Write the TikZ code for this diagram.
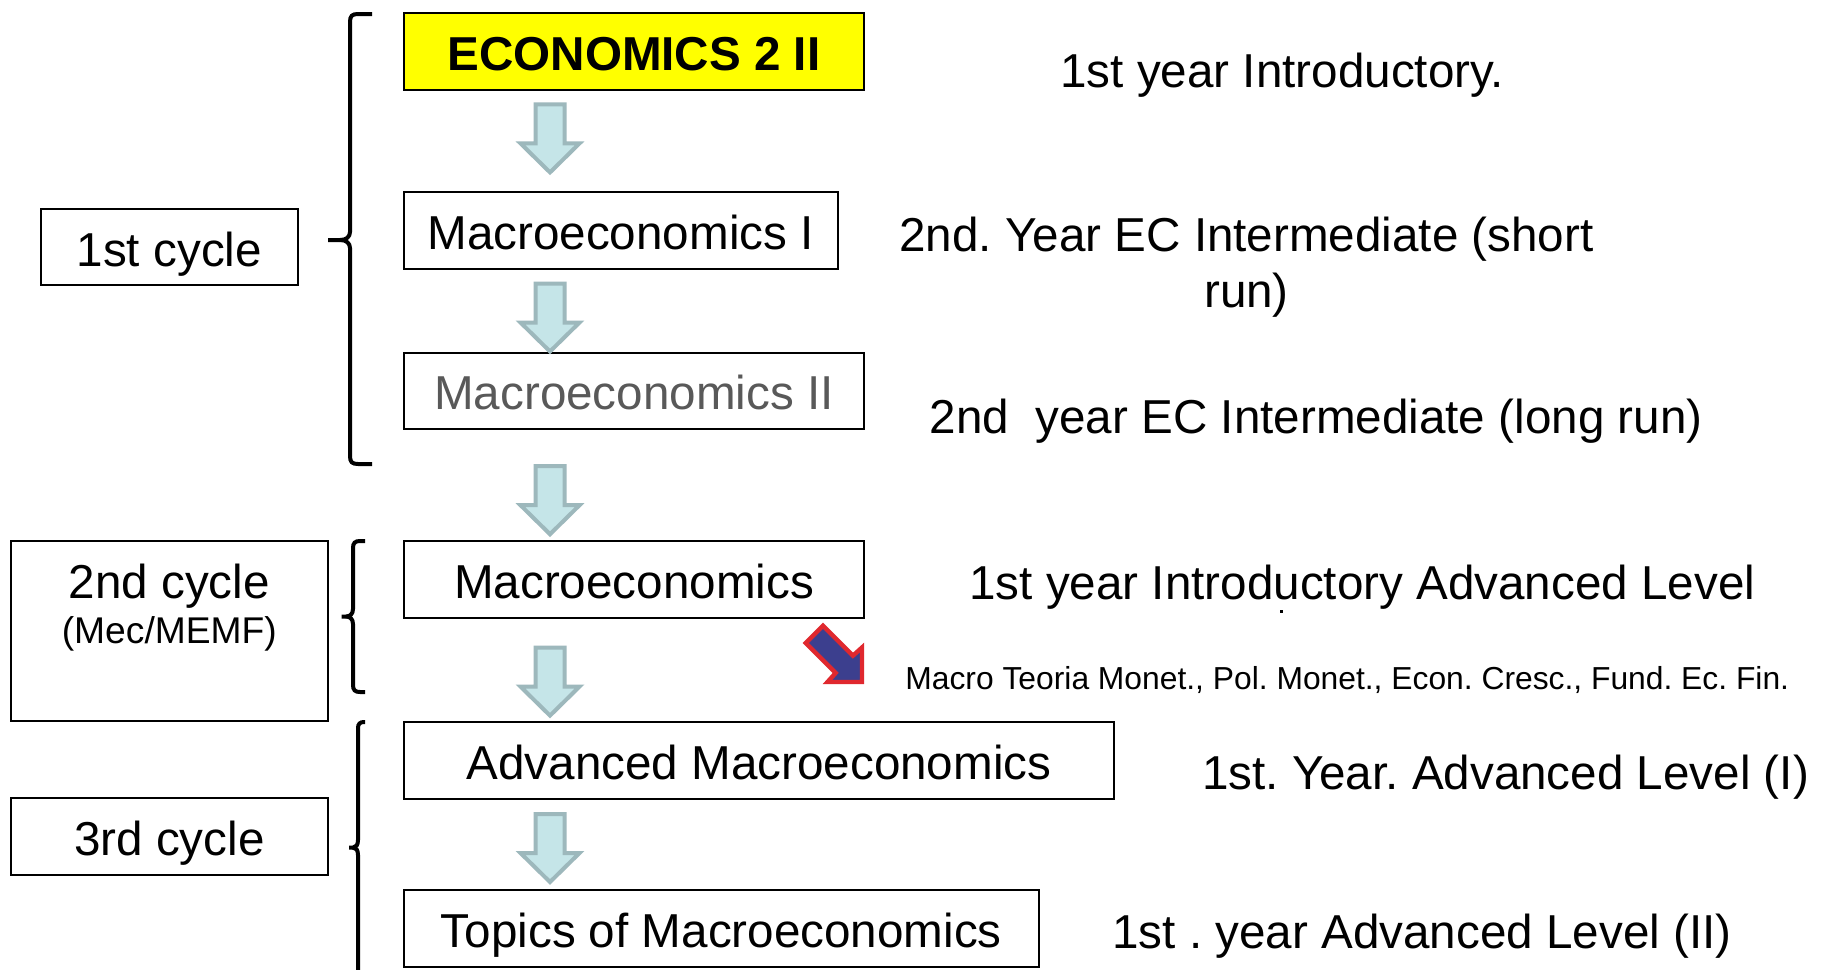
\documentclass[tikz,border=0pt]{standalone}
\usepackage{fontspec}
\setmainfont{Liberation Sans}
\frenchspacing
\definecolor{arrfill}{HTML}{C5E5E8}
\definecolor{arrline}{HTML}{9DB8BC}
\definecolor{navyb}{HTML}{3C3F8E}
\definecolor{redb}{HTML}{E0282E}
\definecolor{graytext}{HTML}{595959}
\definecolor{yel}{HTML}{FFFF00}
\newcommand\fbig{\fontsize{23.8}{28}\selectfont}
\newcommand\fmid{\fontsize{18.6}{22}\selectfont}
\newcommand\fsml{\fontsize{15.9}{19}\selectfont}
\begin{document}
\begin{tikzpicture}[x=0.5pt,y=-0.5pt,
  box/.style={draw=black, line width=1pt, inner sep=0pt, font=\fbig, text=black, text height=19pt, text depth=0pt},
  brc/.style={line width=2pt, line cap=butt},
  lbl/.style={font=\fbig, inner sep=0pt, anchor=base west},
  darr/.style={fill=arrfill, draw=arrline, line width=2pt, line join=miter},
  downarrow/.pic={\path[darr] (-14.5,2) -- (14.5,2) -- (14.5,41) -- (29.5,41) -- (0,70) -- (-29.5,41) -- (-14.5,41) -- cycle;}
]
\useasboundingbox (0,0) rectangle (1824,969);
\fill[white] (0,0) rectangle (1824,969);
\clip (0,0) rectangle (1824,969);

% main course boxes
\node[box, fill=yel, minimum width=230.3pt, minimum height=38.4pt, font=\fbig\bfseries] (eco) at (634,51.2) {ECONOMICS 2 II};
\node[box, minimum width=217pt, minimum height=38.4pt] (m1) at (620.6,230.3) {Macroeconomics I};
\node[box, minimum width=230.3pt, minimum height=38.4pt, text=graytext] (m2) at (634,390.9) {Macroeconomics II};
\node[box, minimum width=230.3pt, minimum height=38.4pt] (mac) at (634,579.3) {Macroeconomics};
\node[box, minimum width=355.35pt, minimum height=38.4pt] (adv) at (759,760.8) {Advanced Macroeconomics};
\node[box, minimum width=317.5pt, minimum height=38.4pt] (top) at (721.3,928.3) {Topics of Macroeconomics};

% cycle boxes
\node[box, minimum width=128.5pt, minimum height=37.8pt] (c1) at (169.3,247.2) {1st cycle};
\node[box, minimum width=158.75pt, minimum height=90.15pt] (c2) at (169.3,631) {};
\node[align=center, inner sep=0pt, anchor=base, font=\fmid] (c2t) at (169.3,643) {{\fbig 2nd cycle}\\[0.5pt](Mec/MEMF)};
\node[box, minimum width=158.75pt, minimum height=38.4pt] (c3) at (169.3,836.4) {3rd cycle};

% block arrows
\pic at (550,102.4) {downarrow};
\pic at (550,281.5) {downarrow};
\pic at (550,464.2) {downarrow};
\pic at (550,645.6) {downarrow};
\pic at (550,812) {downarrow};

% diagonal arrow
\path[fill=navyb, draw=redb, line width=2.2pt, line join=miter]
  (823,625.8) -- (852.9,655.7) -- (862,647.5) -- (862,682) -- (827.5,682) -- (835.7,672.9) -- (805.8,643) -- cycle;

% braces
\draw[brc] (372,14) -- (358,14) .. controls (352,14) and (350,16) .. (350,22) -- (350,232) .. controls (350,237) and (346,240) .. (340,240) -- (328,240);
\draw[brc] (340,240) .. controls (346,240) and (350,243) .. (350,248) -- (350,456) .. controls (350,462) and (352,464) .. (358,464) -- (372,464);

\draw[brc] (365,541) -- (360,541) .. controls (355,541) and (353,543) .. (353,548) -- (353,609) .. controls (353,614) and (350,616.5) .. (346,616.5) -- (341.5,616.5);
\draw[brc] (346,616.5) .. controls (350,616.5) and (353,619) .. (353,624) -- (353,685) .. controls (353,690) and (355,692) .. (360,692) -- (365,692);

\draw[brc] (365,722) -- (364,722) .. controls (360,722) and (358,724) .. (358,728) -- (358,840) .. controls (358,845) and (356,847.5) .. (353,847.5) -- (349,847.5);
\draw[brc] (353,847.5) .. controls (356,847.5) and (358,850) .. (358,855) -- (358,990);

% right-hand labels
\node[lbl] (t1) at (1060,87) {1st year Introductory.};
\node[font=\fbig, inner sep=0pt, align=center, anchor=base] (t2) at (1246.5,307) {2nd. Year EC Intermediate (short\\run)};
\node[lbl] (t3) at (929.5,433) {2nd\ \ year EC Intermediate (long run)};
\node[lbl] (t4) at (969,599) {1st year Introductory Advanced Level};
\fill (1279.5,610.2) rectangle (1282.5,613.2);
\node[lbl, font=\fsml] (t5) at (905,689) {Macro Teoria Monet., Pol. Monet., Econ. Cresc., Fund. Ec. Fin.};
\node[lbl] (t6) at (1201.7,789) {1st. Year. Advanced Level (I)};
\node[lbl] (t7) at (1112,948) {1st . year Advanced Level (II)};
\end{tikzpicture}
\end{document}
